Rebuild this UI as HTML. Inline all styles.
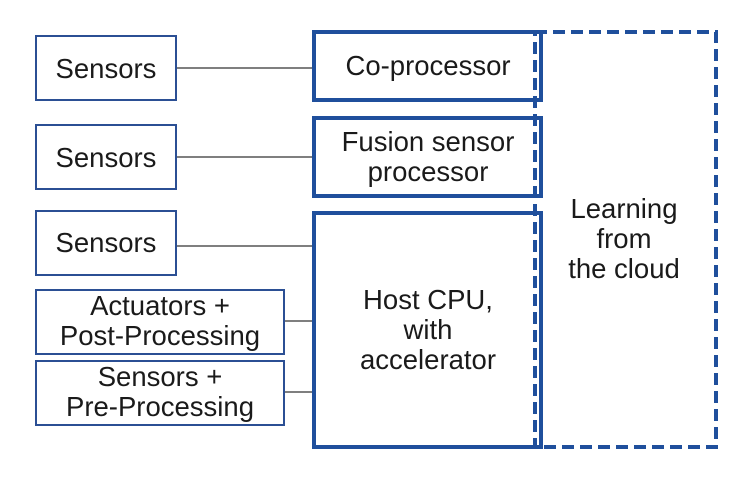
<!DOCTYPE html>
<html><head><style>
body{margin:0;width:750px;height:477px;background:#fff;overflow:hidden}
svg text{font-family:"Liberation Sans",sans-serif;font-size:27.5px;fill:#1a1a1a;text-anchor:middle}
</style></head><body>
<svg width="750" height="477" viewBox="0 0 750 477">
<g stroke="#333" stroke-width="1.3">
<line x1="176" y1="68" x2="313" y2="68"/>
<line x1="176" y1="157" x2="313" y2="157"/>
<line x1="176" y1="246" x2="313" y2="246"/>
<line x1="284" y1="321" x2="313" y2="321"/>
<line x1="284" y1="392" x2="313" y2="392"/>
</g>
<g fill="none" stroke="#2b4f94" stroke-width="2">
<rect x="36" y="36" width="140" height="64"/>
<rect x="36" y="125" width="140" height="64"/>
<rect x="36" y="211" width="140" height="64"/>
<rect x="36" y="290" width="248" height="64"/>
<rect x="36" y="361" width="248" height="64"/>
</g>
<g fill="none" stroke="#1f4f9c" stroke-width="4">
<rect x="314" y="32" width="227" height="68"/>
<rect x="314" y="118" width="227" height="78"/>
<rect x="314" y="213" width="227" height="234"/>
</g>
<g fill="none" stroke="#1f4f9c" stroke-width="4" stroke-dasharray="12,6">
<path d="M535 32 H716 V447 H535 Z"/>
</g>
<text x="428" y="75">Co-processor</text>
<text x="428" y="151">Fusion sensor</text>
<text x="428" y="181">processor</text>
<text x="428" y="309">Host CPU,</text>
<text x="428" y="339">with</text>
<text x="428" y="369">accelerator</text>
<text x="624" y="218">Learning</text>
<text x="624" y="248">from</text>
<text x="624" y="278">the cloud</text>
<text x="106" y="78">Sensors</text>
<text x="106" y="167">Sensors</text>
<text x="106" y="252">Sensors</text>
<text x="160" y="315">Actuators +</text>
<text x="160" y="345">Post-Processing</text>
<text x="160" y="386">Sensors +</text>
<text x="160" y="416">Pre-Processing</text>
</svg>
</body></html>
